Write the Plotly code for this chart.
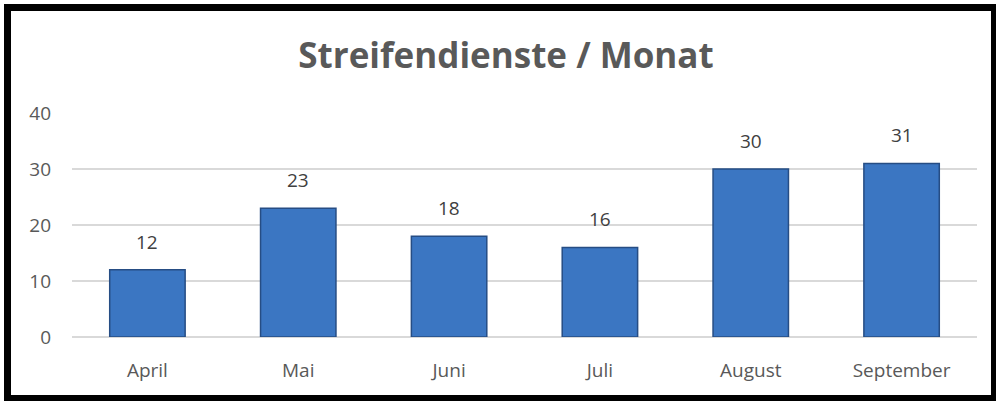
import plotly.graph_objects as go

months = ["April", "Mai", "Juni", "Juli", "August", "September"]
values = [12, 23, 18, 16, 30, 31]
y_ticks = [0, 10, 20, 30, 40]

W, H = 996, 401
L, R, T, B = 72, 19, 113, 64
pw, ph = W - L - R, H - T - B

def px_x(x):
    return (x - L) / pw

def px_y(y):
    return (H - B - y) / ph

FONT = "Open Sans"

fig = go.Figure()
fig.add_trace(go.Bar(
    x=months, y=values,
    marker=dict(color="#3b76c2", line=dict(color="#264d84", width=1.5)),
    hoverinfo="x+y",
))

for m, v in zip(months, values):
    fig.add_annotation(x=m, y=v, text=str(v), showarrow=False, yanchor="bottom", yshift=13,
                       font=dict(family=FONT, size=19, color="#404040"))

frame = dict(color="black", width=7)
fig.update_layout(
    width=W, height=H,
    margin=dict(l=L, r=R, t=T, b=B),
    paper_bgcolor="white", plot_bgcolor="white",
    bargap=0.5,
    showlegend=False,
    title=dict(text="<b>Streifendienste / Monat</b>", x=px_x(506), xref="paper", xanchor="center",
               y=1 - 56 / H, yanchor="middle",
               font=dict(family=FONT, size=35, color="#595959")),
    font=dict(family=FONT, size=19, color="#595959"),
    xaxis=dict(showgrid=False, showline=False, ticks="", ticklabelstandoff=20,
               tickfont=dict(size=19, color="#595959")),
    yaxis=dict(range=[0, 40], tickvals=y_ticks, showgrid=True, gridcolor="#d9d9d9", gridwidth=1.5,
               zeroline=True, zerolinecolor="#d9d9d9", zerolinewidth=1.5,
               ticks="", ticklabelstandoff=20, tickfont=dict(size=19, color="#595959")),
    shapes=[
        dict(type="line", xref="paper", yref="paper", x0=px_x(7.5), x1=px_x(7.5),
             y0=px_y(4), y1=px_y(401), line=frame, layer="above"),
        dict(type="line", xref="paper", yref="paper", x0=px_x(4), x1=px_x(996),
             y0=px_y(7.5), y1=px_y(7.5), line=frame, layer="above"),
        dict(type="line", xref="paper", yref="paper", x0=px_x(4), x1=px_x(996),
             y0=px_y(398.5), y1=px_y(398.5), line=frame, layer="above"),
        dict(type="line", xref="paper", yref="paper", x0=px_x(994), x1=px_x(994),
             y0=px_y(4), y1=px_y(401), line=dict(color="black", width=6), layer="above"),
    ],
)

fig.write_html(
    "out.html",
    config={"displayModeBar": False},
    post_script="document.documentElement.style.margin='0';document.body.style.margin='0';"
                "document.body.style.overflow='hidden';document.documentElement.style.overflow='hidden';",
)
